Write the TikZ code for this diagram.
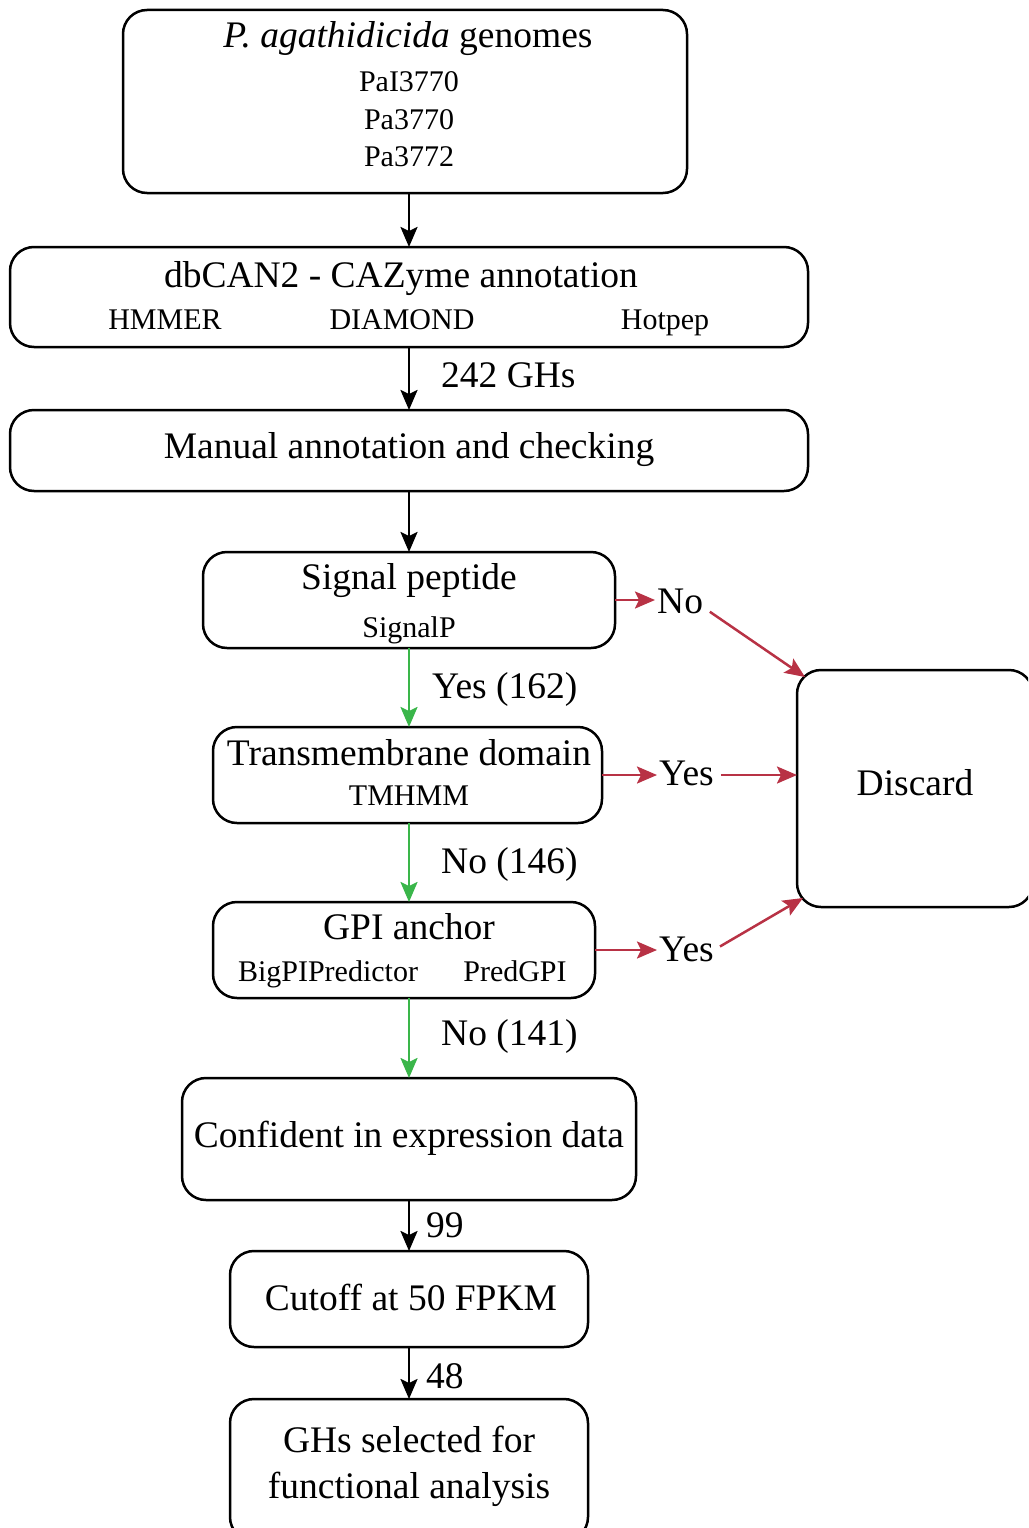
\documentclass[tikz,border=0pt]{standalone}
\usepackage{fontspec}
\setmainfont{Liberation Serif}
\usetikzlibrary{arrows.meta,calc}
\definecolor{redc}{RGB}{184,50,69}
\definecolor{greenc}{RGB}{58,182,74}
\begin{document}
\begin{tikzpicture}[x=1pt,y=-1pt,
  box/.style={draw, line width=2.5pt, rounded corners=24pt, inner sep=0pt, outer sep=0pt},
  big/.style={font=\fontsize{37.5}{40}\selectfont, inner sep=0pt, anchor=base},
  small/.style={font=\fontsize{30}{32}\selectfont, inner sep=0pt, anchor=base},
  lbl/.style={font=\fontsize{37.5}{40}\selectfont, inner sep=0pt, anchor=base west},
  tip/.style={-{Stealth[length=20pt,width=17pt,inset=4pt]}},
  blk/.style={line width=2.5pt, tip},
  grn/.style={greenc, line width=2.5pt, tip},
  rd/.style={redc, line width=2.5pt, tip}]
\useasboundingbox (0,0) rectangle (1028,1528);
\clip (0,0) rectangle (1028,1528);
\coordinate (ax) at (409,0);
% boxes
\node[box, minimum width=564pt, minimum height=183pt] (gen) at (405,101.5) {};
\node[box, minimum width=798pt, minimum height=100pt] (db) at (409,297) {};
\node[box, minimum width=798pt, minimum height=81pt] (man) at (409,450.5) {};
\node[box, minimum width=412pt, minimum height=96pt] (sig) at (409,600) {};
\node[box, minimum width=389pt, minimum height=96pt] (tm) at (407.5,775) {};
\node[box, minimum width=382pt, minimum height=96pt] (gpi) at (404,950) {};
\node[box, minimum width=454pt, minimum height=122pt] (conf) at (409,1139) {};
\node[box, minimum width=358pt, minimum height=96pt] (cut) at (409,1299) {};
\node[box, minimum width=358pt, minimum height=142pt] (sel) at (409,1470) {};
\node[box, minimum width=236pt, minimum height=237pt] (disc) at (915,788.5) {};
% texts
\node[big] (t1) at (408,48) {\textit{P. agathidicida} genomes};
\node[small] (t2) at (409,92) {PaI3770};
\node[small] (t3) at (409,129) {Pa3770};
\node[small] (t4) at (409,166) {Pa3772};
\node[big] (t5) at (401,287) {dbCAN2 - CAZyme annotation};
\node[small] (t6) at (165,329) {HMMER};
\node[small] (t7) at (402,329) {DIAMOND};
\node[small] (t8) at (665,329) {Hotpep};
\node[big] (t9) at (409,458) {Manual annotation and checking};
\node[big] (t10) at (409,589) {Signal peptide};
\node[small] (t11) at (409,637) {SignalP};
\node[big] (t12) at (409,765) {Transmembrane domain};
\node[small] (t13) at (409,805) {TMHMM};
\node[big] (t14) at (409,939) {GPI anchor};
\node[small] (t15) at (328,981) {BigPIPredictor};
\node[small] (t16) at (515,981) {PredGPI};
\node[big] (t17) at (409,1147) {Confident in expression data};
\node[big] (t18) at (411,1310) {Cutoff at 50 FPKM};
\node[big] (t19) at (409,1452) {GHs selected for};
\node[big] (t20) at (409,1498) {functional analysis};
\node[big] (t21) at (915,795) {Discard};
% edge labels
\node[lbl] (l1) at (441,387) {242 GHs};
\node[lbl] (l2) at (432,698) {Yes (162)};
\node[lbl] (l3) at (441,873) {No (146)};
\node[lbl] (l4) at (441,1045) {No (141)};
\node[lbl] (l5) at (426,1237) {99};
\node[lbl] (l6) at (426,1388) {48};
\node[lbl] (no1) at (657,613) {No};
\node[lbl] (yes1) at (659,785) {Yes};
\node[lbl] (yes2) at (659,961) {Yes};
\coordinate (dnw) at (805,677);
\coordinate (dsw) at (803,898);
% black / green arrows
\draw[blk] (gen.south -| ax) -- (db.north -| ax);
\draw[blk] (db.south -| ax) -- (man.north -| ax);
\draw[blk] (man.south -| ax) -- (sig.north -| ax);
\draw[grn] (sig.south -| ax) -- (tm.north -| ax);
\draw[grn] (tm.south -| ax) -- (gpi.north -| ax);
\draw[grn] (gpi.south -| ax) -- (conf.north -| ax);
\draw[blk] (conf.south -| ax) -- (cut.north -| ax);
\draw[blk] (cut.south -| ax) -- (sel.north -| ax);
% red arrows
\draw[rd, shorten >=2pt] (sig.east) -- (sig.east -| no1.west);
\draw[rd, shorten <=8pt] ($(no1.east)!0.5!(no1.south east)$) -- (dnw);
\draw[rd, shorten >=2pt] (tm.east) -- (tm.east -| yes1.west);
\draw[rd, shorten <=7pt] (yes1.east |- tm.east) -- (tm.east -| disc.west);
\draw[rd, shorten >=2pt] (gpi.east) -- (gpi.east -| yes2.west);
\draw[rd, shorten <=7pt] (yes2.east |- gpi.east) -- (dsw);
\end{tikzpicture}
\end{document}
